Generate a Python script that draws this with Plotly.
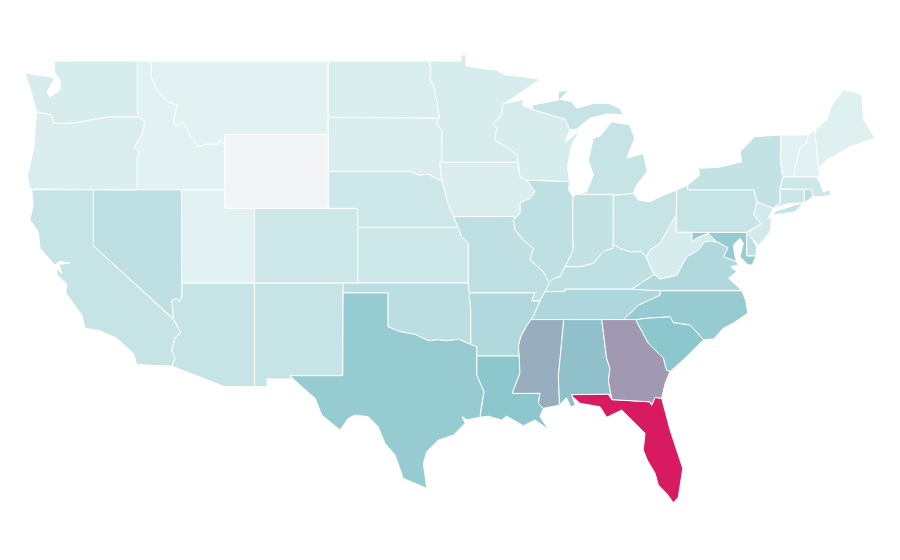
import plotly.graph_objects as go
from plotly.colors import sample_colorscale

# Data
states = ["AL", "AZ", "AR", "CA", "CO", "CT", "DE", "FL", "GA", "ID", "IL", "IN", "IA", "KS", "KY", "LA",
          "ME", "MD", "MA", "MI", "MN", "MS", "MO", "MT", "NE", "NV", "NH", "NJ", "NM", "NY", "NC", "ND",
          "OH", "OK", "OR", "PA", "RI", "SC", "SD", "TN", "TX", "UT", "VT", "VA", "WA", "WV", "WI", "WY"]
values = [28, 11, 16, 11, 9, 10, 13, 100, 45, 4, 13, 12, 6, 9, 13, 25,
          5, 23, 9, 11, 7, 36, 13, 4, 9, 13, 4, 8, 11, 12, 23, 6,
          11, 14, 6, 11, 14, 25, 6, 17, 23, 4, 4, 16, 7, 7, 7, 0]

colorscale = [[0, "#f3f4f5"], [0.04, "#e2f2f2"], [0.25, "#8dc7ce"], [1, "#d81b60"]]

# Borders used by two states, lon/lat
or_wa = [(-123.81,46.24),(-123.3,46.15),(-122.8,46.07),(-122.7,45.65),(-122,45.6),(-121.2,45.65),(-120,45.83),(-118.95,45.97),(-116.92,45.97)]
or_id = [(-116.92,45.97),(-116.47,45.7),(-116.69,44.98),(-117.2,44.34),(-116.86,44.07),(-117,43.8),(-117,42)]
id_mt = [(-116.04,49),(-116.04,48.15),(-115.68,47.42),(-114.89,46.79),(-114.28,46.6),(-114.55,45.7),(-114.39,45.47),(-113.87,45.65),(-113.3,44.8),(-112.86,44.34),(-112.3,44.49),(-111.5,44.49),(-111.34,44.74),(-111.05,44.43)]
ca_az = [(-114.55,35),(-114.5,34.92),(-114.05,34.23),(-114.44,33.95),(-114.66,33.3),(-114.44,32.84),(-114.66,32.42)]
nv_az = [(-113.98,36.93),(-113.98,36.19),(-114.14,35.92),(-114.32,36.1),(-114.66,36.01),(-114.59,35.2),(-114.55,35)]
red_river = [(-94.39,33.6),(-95.2,33.88),(-96,33.8),(-96.6,33.85),(-97.2,33.8),(-97.7,33.95),(-98.1,34.13),(-99.2,34.3),(-100,34.56)]
mn_wi = [(-92.06,46.7),(-92.22,46.65),(-92.29,46.07),(-92.86,45.6),(-92.63,45.34),(-92.74,44.7),(-91.95,44.34),(-91.23,43.89),(-91.16,43.49)]
mn_dak = [(-96.35,45.25),(-96.74,45.61),(-96.52,45.89),(-96.7,46.88),(-96.85,47.5),(-97.15,48),(-97.1,48.6),(-97.23,49)]
ia_il = [(-91.05,42.72),(-90.6,42.53),(-90.03,41.9),(-90.37,41.54),(-91.05,41.3),(-91.05,40.72),(-91.39,40.45)]
il_mo = [(-91.39,40.45),(-91.5,40.36),(-91.39,39.82),(-90.71,39.18),(-90.15,38.82),(-90.37,38.2),(-89.47,37.55),(-89.06,36.95)]
ar_ms = [(-90.3,34.95),(-90.6,34.6),(-91,34),(-91.15,33.5),(-91.1,32.97)]
la_ms = [(-91.1,32.97),(-91.05,32.03),(-91.57,30.94),(-89.69,30.94),(-89.8,30.4),(-89.47,30.12)]
al_ms = [(-88.1,34.95),(-88.1,34.85),(-88.45,31.9),(-88.38,30.3)]
al_ga = [(-85.5,34.95),(-85.18,32.87),(-84.95,32.3),(-85.05,31.6),(-84.83,30.67)]
ga_sc = [(-83.14,34.83),(-82.79,34.29),(-82.34,33.66),(-81.32,32.84),(-81.1,32.2),(-80.87,32.13)]
nc_sc = [(-83.14,34.95),(-82.47,35.02),(-80.87,35.1),(-80.65,34.78),(-79.51,34.65),(-78.6,33.85)]
nc_tn = [(-84.04,34.95),(-83,35.74),(-82.3,36.02),(-81.55,36.28),(-81.55,36.52)]
ky_va = [(-83.47,36.6),(-82,37.37),(-82,37.46)]
ky_in = [(-88,37.82),(-86.98,37.82),(-86.07,38),(-85.4,38.64),(-84.76,38.82),(-84.72,39.05)]
ky_oh = [(-84.72,39.05),(-84.27,38.82),(-83.6,38.64),(-82.81,38.64),(-82.5,38.34)]
il_ky = [(-89.06,36.95),(-88.78,37.18),(-88.34,37.28),(-88,37.82)]
il_in = [(-88,37.82),(-87.43,38.73),(-87.47,39.27),(-87.47,41.63)]
oh_wv = [(-82.5,38.34),(-82.23,38.73),(-81.55,39.09),(-80.65,40.36),(-80.45,40.64)]
va_wv = [(-82,37.46),(-81.55,37.15),(-80.42,37.37),(-79.74,38.36),(-78.95,38.73),(-78.5,39.2),(-78.17,39.2),(-77.71,39.18)]
md_va = [(-77.71,39.18),(-76.95,38.85),(-77.26,38.36),(-76.35,38.09)]
md_wv = [(-77.71,39.18),(-78.28,39.63),(-78.95,39.42),(-79.4,39.18),(-79.4,39.69)]
pa_nj = [(-74.99,41.36),(-75.13,40.98),(-75.2,40.65),(-74.72,40.15),(-75.4,39.8)]
vt_nh = [(-71.5,44.98),(-71.6,44.55),(-72.05,44.3),(-72.4,43.25),(-72.5,42.71)]
nh_me = [(-71.05,45.25),(-70.82,43.17)]
ma_north = [(-73.23,42.71),(-72.5,42.71),(-71.25,42.71),(-70.93,42.71)]


def rev(seg):
    return seg[::-1]


# State outlines, each state a list of rings
shapes = {
    "WA": [[(-122.64,49),(-116.99,49),(-116.99,46.45)] + rev(or_wa) + [(-124.1,47),(-124.22,47.42),(-124.6,48.33),(-123.03,48.15),(-122.6,48.05),(-123.13,47.3),(-122.91,47.06),(-122.23,47.42),(-122.23,47.97),(-122.57,48.33)]],
    "OR": [or_wa + or_id[1:] + [(-124.27,42.04),(-124.45,42.7),(-124,44.34),(-123.9,45.5)]],
    "ID": [[(-116.99,49)] + id_mt + [(-111.05,42),(-117,42)] + rev(or_id)[1:] + [(-116.99,46.45)]],
    "MT": [[(-104.05,49),(-104.05,45),(-111.05,45)] + rev(id_mt)],
    "WY": [[(-111.05,45),(-104.05,45),(-104.05,41),(-111.05,41)]],
    "ND": [[(-104.05,49)] + rev(mn_dak)[:-2] + [(-104.05,45.94)]],
    "SD": [[(-104.05,45.94),(-96.52,45.89),(-96.74,45.61),(-96.35,45.25),(-96.35,43.49),(-96.5,43.49),(-96.35,42.5),(-96.7,42.6),(-97.25,42.85),(-97.9,42.8),(-98.5,43),(-104.05,43)]],
    "NE": [[(-104.05,43),(-98.5,43),(-97.9,42.8),(-97.25,42.85),(-96.7,42.6),(-96.35,42.5),(-96.1,41.75),(-95.9,41.2),(-95.57,40.54),(-95.23,39.96),(-102.05,39.96),(-102.05,41),(-104.05,41)]],
    "KS": [[(-102.05,39.96),(-95.23,39.96),(-95,39.46),(-94.55,39.09),(-94.55,36.93),(-102.05,36.93)]],
    "OK": [[(-103,36.93),(-94.55,36.93),(-94.39,35.4)] + red_river + [(-100,36.4),(-103.04,36.4)]],
    "TX": [[(-103.04,36.4),(-100,36.4)] + rev(red_river) + [(-93.98,33.47),(-93.98,31.93),(-93.49,31.03),(-93.65,30.3),(-93.76,29.64),(-94.64,29.5),(-94.98,29.67),(-94.76,29.31),(-95.56,28.67),(-96.58,28.4),(-97.37,27.77),(-97.6,27.13),(-97.37,25.78),(-98.96,26.32),(-99.52,27.59),(-100.2,28.22),(-100.66,29.12),(-101.33,29.67),(-102.24,29.76),(-102.69,29.58),(-103.25,28.95),(-104.49,29.76),(-104.94,30.67),(-105.96,31.39),(-106.64,31.9),(-103.06,31.9)]],
    "NM": [[(-109.05,36.93),(-103,36.93),(-103.04,36.4),(-103.06,31.9),(-106.64,31.9),(-106.53,31.72),(-108.2,31.72),(-108.2,31.3),(-109.05,31.3)]],
    "AZ": [nv_az + ca_az[1:] + [(-111.05,31.3),(-109.05,31.3),(-109.05,36.93)]],
    "UT": [[(-114,42),(-111.05,42),(-111.05,41),(-109.05,41),(-109.05,36.93),(-113.98,36.93)]],
    "CO": [[(-109.05,41),(-102.05,41),(-102.05,36.93),(-109.05,36.93)]],
    "NV": [[(-119.97,42),(-114,42)] + nv_az + [(-119.97,38.96)]],
    "CA": [[(-124.15,42),(-119.97,42),(-119.97,38.96)] + ca_az + [(-117.03,32.5),(-117.26,33.11),(-118.39,33.93),(-119.52,34.34),(-120.54,34.47),(-120.76,35.2),(-121.83,36.38),(-121.78,36.88),(-122.41,37.37),(-122.5,37.75),(-122.1,37.45),(-122.3,37.95),(-121.55,38.03),(-122.3,38.12),(-122.57,37.9),(-123.59,38.82),(-123.7,39.72),(-124.27,40.36),(-124.05,41.2)]],
    "MN": [[(-97.23,49),(-95.05,49),(-95.05,49.33),(-94.7,49.33),(-94.7,48.73),(-93.76,48.6),(-92.63,48.51),(-92.06,48.24),(-90.82,48.15),(-89.69,48)] + mn_wi + [(-96.35,43.49)] + mn_dak],
    "IA": [[(-96.5,43.49),(-91.16,43.49)] + ia_il + [(-91.5,40.55),(-95.57,40.54),(-95.9,41.2),(-96.1,41.75),(-96.35,42.5)]],
    "MO": [[(-95.57,40.54),(-91.5,40.55)] + il_mo + [(-89.35,36.47),(-89.69,35.97),(-90.25,35.97),(-90.03,36.41),(-94.55,36.41),(-94.55,39.09),(-95,39.46),(-95.23,39.96)]],
    "AR": [[(-94.55,36.41),(-90.03,36.41),(-90.25,35.97),(-89.69,35.97),(-90.15,35.1)] + ar_ms + [(-93.98,32.97),(-93.98,33.47),(-94.39,33.6),(-94.39,35.4)]],
    "LA": [[(-93.98,32.97)] + la_ms + [(-89.69,29.67),(-89.12,28.98),(-90.03,29.49),(-90.82,29.18),(-91.95,29.7),(-92.3,29.49),(-93.2,29.7),(-93.76,29.64),(-93.65,30.3),(-93.49,31.03),(-93.98,31.93)]],
    "MS": [ar_ms + la_ms[1:] + rev(al_ms)],
    "AL": [al_ms + [(-87.9,30.7),(-87.6,30.2),(-87.3,30.3),(-87.54,30.87),(-84.95,30.89)] + rev(al_ga)],
    "GA": [[(-85.5,34.95),(-83.14,34.95)] + ga_sc + [(-81.2,31.5),(-81.44,30.67),(-81.89,30.72),(-82.12,30.3),(-82.23,30.48),(-84.83,30.6),(-84.83,30.67)] + rev(al_ga)[1:]],
    "FL": [[(-87.54,30.87),(-85.06,30.89),(-84.83,30.6),(-82.23,30.48),(-82.12,30.3),(-81.89,30.72),(-81.44,30.67),(-80.87,28.95),(-80.01,26.86),(-80.31,25.3),(-80.65,25),(-81.1,25.5),(-81.67,25.96),(-81.89,26.6),(-82.41,27.3),(-82.69,27.86),(-82.57,28.77),(-83.36,29.4),(-84.15,30.03),(-85.17,29.64),(-85.62,30.21),(-86.98,30.4),(-87.47,30.76)]],
    "SC": [nc_sc + [(-79.85,32.85),(-80.87,32.13)] + rev(ga_sc)[1:]],
    "NC": [nc_tn[:1] + nc_sc + [(-77.9,33.9),(-77.3,34.45),(-76.5,34.8),(-75.6,35.3),(-75.75,36),(-76,36.52),(-81.55,36.52)] + rev(nc_tn)[1:]],
    "TN": [[(-90.3,34.95),(-84.04,34.95)] + nc_tn[1:] + [(-83.47,36.6),(-88,36.6),(-88,36.47),(-89.35,36.47),(-89.69,35.97),(-90.15,35.1)]],
    "KY": [[(-89.35,36.47),(-88,36.47),(-88,36.6)] + ky_va + [(-82.5,38.34)] + rev(ky_oh)[1:] + rev(ky_in)[1:] + rev(il_ky)[1:]],
    "VA": [[(-83.47,36.6),(-81.55,36.52),(-76,36.52),(-76.47,36.9),(-76.9,37.2),(-76.35,37.55),(-76.76,37.82),(-76.24,37.92)] + rev(md_va) + rev(va_wv)[1:] + rev(ky_va)[1:]],
    "WV": [va_wv + md_wv[1:] + [(-80.45,39.69)] + rev(oh_wv)],
    "OH": [ky_oh + oh_wv[1:] + [(-80.42,41.99),(-81.3,41.72),(-82.23,41.35),(-83.03,41.45),(-83.36,41.8),(-84.72,41.7)]],
    "IN": [rev(ky_in) + il_in[1:] + [(-87.2,41.76),(-84.72,41.76)]],
    "IL": [[(-90.6,42.53),(-87.7,42.45),(-87.75,42),(-87.47,41.63)] + rev(il_in)[1:] + rev(il_ky)[1:] + rev(il_mo)[1:] + rev(ia_il)[1:]],
    "WI": [[(-90.6,42.53),(-87.7,42.45),(-87.83,43.26),(-87.54,44.43),(-86.98,45.25),(-88,44.56),(-87.66,45.25),(-88,45.83),(-88.68,46),(-90.15,46.34),(-90.87,46.6),(-90.82,46.92)] + mn_wi + [(-91.05,42.72)]],
    "MI": [[(-87.2,41.76),(-86.52,41.9),(-86.07,42.8),(-86.41,43.62),(-86.07,44.8),(-85.62,44.92),(-84.83,45.7),(-83.6,45.52),(-83.28,44.8),(-83.81,43.71),(-82.69,43.98),(-82.42,43),(-83.2,42.18),(-83.36,41.8),(-84.72,41.7),(-84.72,41.76)],
           [(-90.25,46.6),(-88.45,46.88),(-88.45,47.33),(-87.77,47.42),(-88.33,46.92),(-87.54,46.79),(-87.2,46.43),(-86.07,46.7),(-85.06,46.7),(-84.27,46.43),(-84.04,46.07),(-85.17,46.12),(-86.3,45.89),(-87.2,45.3),(-87.66,45.25),(-88,45.83),(-88.68,46),(-90.15,46.34)]],
    "PA": [[(-80.42,41.99),(-79.68,42.26),(-79.68,42),(-75.2,42)] + pa_nj + [(-75.68,39.69),(-80.45,39.69)]],
    "NY": [[(-79.68,42.26),(-78.85,42.8),(-78.96,43.17),(-77.6,43.22),(-76.02,43.53),(-76.13,44.07),(-75.12,44.89),(-73.35,44.98),(-73.4,43.6),(-73.23,42.71),(-73.42,42.05),(-73.42,41.3),(-73.87,41),(-74.99,41.36),(-75.2,42),(-79.68,42)],
           [(-73.98,40.63),(-73.64,40.86),(-72.4,41.17),(-71.84,41.3),(-72.4,40.8)]],
    "NJ": [[(-74.99,41.36),(-73.87,41),(-74.05,40.7),(-74.25,40.5),(-74,40.45),(-74.05,39.8),(-74.4,39.4),(-74.9,38.95),(-75.1,39.2),(-75.55,39.5)] + rev(pa_nj)[:-1]],
    "DE": [[(-75.68,39.69),(-75.4,39.8),(-75.4,39.46),(-75,38.9),(-75.05,38.4),(-75.68,38.4)]],
    "MD": [[(-79.4,39.69),(-75.68,39.69),(-75.68,38.4),(-75.05,38.4),(-75.3,37.92),(-75.57,37.92),(-76.13,38.36),(-75.9,39.1),(-76.13,39.36),(-76.58,39),(-76.5,38.5)] + rev(md_va) + md_wv[1:-1]],
    "CT": [[(-73.42,42.05),(-71.77,42.02),(-71.77,41.3),(-72.9,41.25),(-73.87,41),(-73.42,41.3)]],
    "RI": [[(-71.77,42.02),(-71.3,42.02),(-71.18,41.63),(-71.77,41.3)]],
    "MA": [ma_north + [(-70.7,42.35),(-70.5,41.9),(-70,42),(-70,41.72),(-70.5,41.63),(-71.18,41.63),(-71.3,42.02),(-71.77,42.02),(-73.42,42.05)]],
    "VT": [[(-73.35,44.98)] + vt_nh + [(-73.23,42.71),(-73.4,43.6)]],
    "NH": [[(-71.5,44.98)] + nh_me + [(-70.7,42.8),(-70.93,42.71),(-72.5,42.71)] + rev(vt_nh)[1:]],
    "ME": [[(-71.05,45.25),(-70.25,45.8),(-69.91,46.6),(-69.12,47.43),(-68.3,47.3),(-67.87,47.15),(-67.75,45.8),(-66.97,44.8),(-68.67,44.34),(-70.25,43.62),(-70.82,43.17)]],
}

fig = go.Figure()

# one filled trace per state, colour
for state, value in zip(states, values):
    lon, lat = [], []
    for ring in shapes[state]:
        lon += [p[0] for p in ring] + [ring[0][0], None]
        lat += [p[1] for p in ring] + [ring[0][1], None]
    color = sample_colorscale(colorscale, value / 100)[0]
    fig.add_trace(go.Scatter(x=lon, y=lat, mode="lines", fill="toself", fillcolor=color,
                             line=dict(color="white", width=1), name=state, hoverinfo="name"))

fig.update_layout(
    width=900, height=560, showlegend=False,
    margin=dict(l=0, r=0, t=0, b=0),
    paper_bgcolor="white", plot_bgcolor="white",
    xaxis=dict(range=[-125.76, -64.74], visible=False),
    yaxis=dict(range=[21.45, 51.88], visible=False),
)

fig.write_html("out.html")
